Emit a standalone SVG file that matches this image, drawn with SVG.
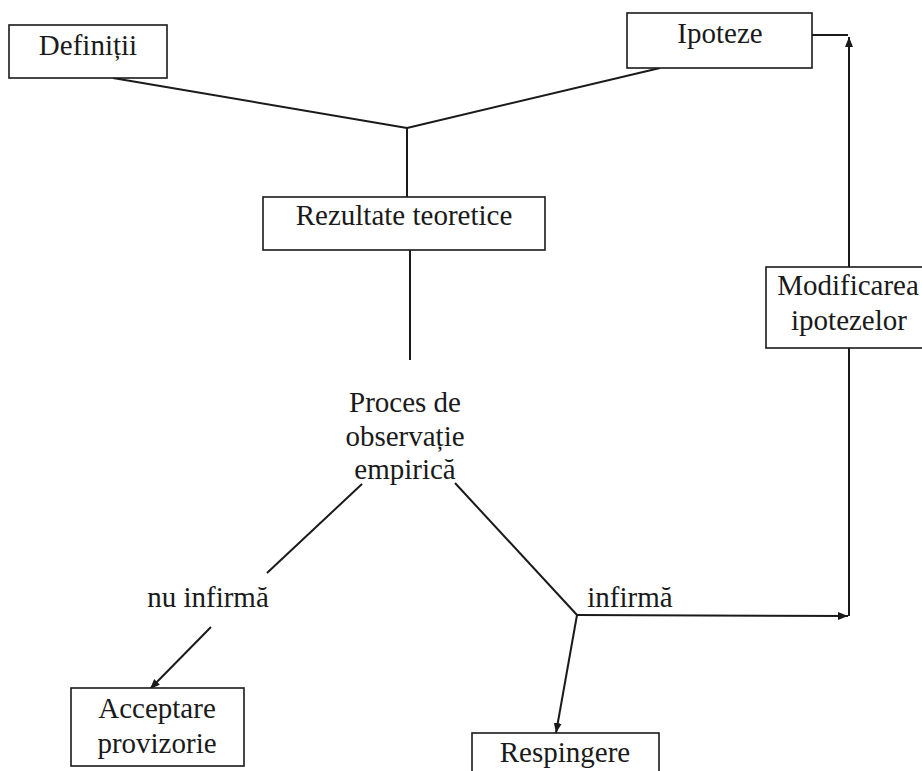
<svg xmlns="http://www.w3.org/2000/svg" width="922" height="771" viewBox="0 0 922 771">
<style>
.n rect{fill:#fff;stroke:#1a1a1a;stroke-width:1.6}
text{font-family:"Liberation Serif","Times New Roman",serif;font-size:29px;fill:#1a1a1a;text-anchor:middle}
.c line{stroke:#1a1a1a;stroke-width:2;fill:none}
</style>
<defs>
<marker id="ah" viewBox="0 0 10 10" refX="10" refY="5" markerWidth="10" markerHeight="10" markerUnits="userSpaceOnUse" orient="auto">
<path d="M0,1 L10,5 L0,9 Z" fill="#1a1a1a"/>
</marker>
</defs>
<g class="c" id="connectors">
<line x1="113" y1="78" x2="407" y2="128"/>
<line x1="660" y1="68" x2="407" y2="128"/>
<line x1="407" y1="128" x2="407" y2="197"/>
<line x1="410" y1="250" x2="410" y2="360"/>
<line x1="812" y1="35" x2="848" y2="35"/>
<line x1="849" y1="267" x2="849" y2="37" marker-end="url(#ah)"/>
<line x1="849" y1="348" x2="849" y2="616"/>
<line x1="362" y1="484" x2="267" y2="573"/>
<line x1="455" y1="483" x2="577" y2="615"/>
<line x1="211" y1="627" x2="150" y2="689" marker-end="url(#ah)"/>
<line x1="577" y1="615" x2="848" y2="616" marker-end="url(#ah)"/>
<line x1="577" y1="615" x2="556" y2="733" marker-end="url(#ah)"/>
</g>
<g class="n" id="definitii"><rect x="9" y="25" width="158" height="53"/><text x="88" y="55">Definiții</text></g>
<g class="n" id="ipoteze"><rect x="627" y="13" width="185" height="55"/><text x="720" y="43">Ipoteze</text></g>
<g class="n" id="rezultate"><rect x="263" y="197" width="282" height="53"/><text x="404" y="225">Rezultate teoretice</text></g>
<g class="n" id="proces"><text x="405" y="412">Proces de</text><text x="405" y="446">observație</text><text x="405" y="479">empirică</text></g>
<g class="n" id="modificarea"><rect x="766" y="267" width="160" height="81"/><text x="848" y="295">Modificarea</text><text x="849" y="330">ipotezelor</text></g>
<g class="n" id="nuinfirma"><text x="208" y="607">nu infirmă</text></g>
<g class="n" id="infirma"><text x="630" y="607">infirmă</text></g>
<g class="n" id="acceptare"><rect x="71" y="688" width="173" height="78"/><text x="157" y="718">Acceptare</text><text x="157" y="753">provizorie</text></g>
<g class="n" id="respingere"><rect x="472" y="733" width="187" height="50"/><text x="565" y="762">Respingere</text></g>
</svg>
